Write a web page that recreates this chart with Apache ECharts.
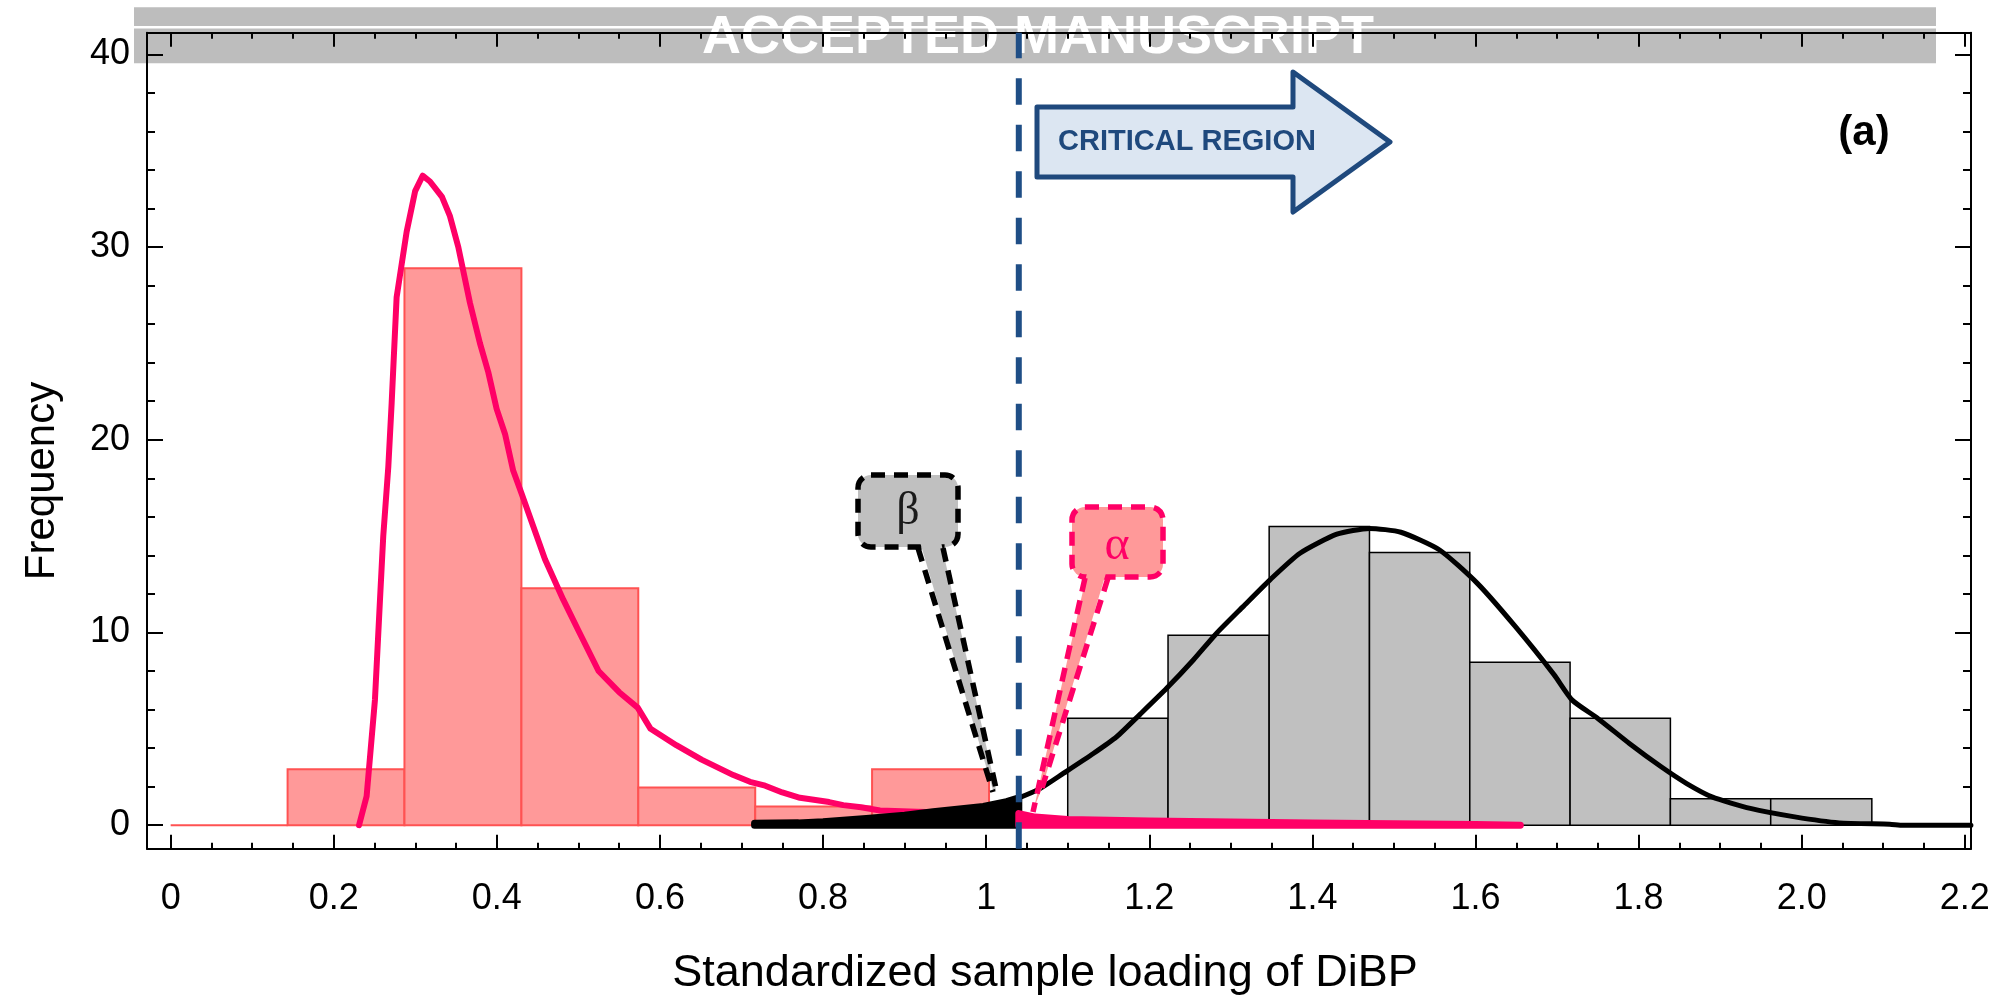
<!DOCTYPE html>
<html>
<head>
<meta charset="utf-8">
<script src="https://cdn.jsdelivr.net/npm/echarts@6/dist/echarts.min.js"></script>
<style>
  html, body { margin: 0; padding: 0; background: #ffffff; }
  #chart { width: 1997px; height: 997px; }
</style>
</head>
<body>
<div id="chart"></div>
<script>
// ---------------- data ----------------
// pink sample (below the critical value): histogram bins
const pinkBinEdges   = [0, 0.1434, 0.2867, 0.4301, 0.5734, 0.7168, 0.8601, 1.0035];
const pinkBinHeights = [0, 2.9, 28.9, 12.3, 1.95, 0.97, 2.9];

// grey sample (above the critical value): histogram bins
const greyBinEdges   = [1.100, 1.223, 1.347, 1.470, 1.593, 1.716, 1.839, 1.962, 2.086];
const greyBinHeights = [5.55, 9.85, 15.5, 14.15, 8.45, 5.55, 1.37, 1.37];

// fitted density of the pink sample
const pinkCurve = [
  [0.231, 0], [0.2403, 1.5], [0.2505, 6.5], [0.2567, 11.7], [0.2607, 15.0],
  [0.2669, 18.6], [0.2710, 21.9], [0.2771, 27.4], [0.2894, 30.8], [0.2998, 32.9],
  [0.3090, 33.7], [0.3180, 33.4], [0.3327, 32.6], [0.3425, 31.6], [0.3527, 30.0],
  [0.3670, 27.1], [0.3793, 25.0], [0.3895, 23.5], [0.3997, 21.6], [0.4100, 20.3],
  [0.4200, 18.4], [0.4304, 17.2], [0.4447, 15.5], [0.4590, 13.8], [0.4814, 11.7],
  [0.5000, 10.1], [0.5247, 8.0], [0.5500, 6.9], [0.5727, 6.1], [0.5885, 5.0],
  [0.6200, 4.15], [0.6510, 3.4], [0.6900, 2.6], [0.7104, 2.25], [0.7290, 2.05],
  [0.7500, 1.7], [0.7717, 1.42], [0.8075, 1.2], [0.8248, 1.04], [0.8466, 0.93],
  [0.8698, 0.76], [0.9150, 0.70], [0.9500, 0.66], [0.9800, 0.62]
];

// fitted density of the grey sample
const greyCurve = [
  [0.716, 0.10], [0.770, 0.12], [0.800, 0.18], [0.853, 0.35], [0.900, 0.52],
  [0.935, 0.70], [0.9965, 0.97], [1.025, 1.22], [1.040, 1.42], [1.066, 1.90],
  [1.095, 2.70], [1.1314, 3.72], [1.160, 4.59], [1.1886, 5.75], [1.2213, 7.10],
  [1.254, 8.57], [1.2826, 9.96], [1.315, 11.34], [1.348, 12.73], [1.3848, 14.11],
  [1.430, 15.10], [1.470, 15.40], [1.5086, 15.20], [1.556, 14.28], [1.602, 12.56],
  [1.649, 10.30], [1.6965, 7.80], [1.7186, 6.49], [1.750, 5.54], [1.7887, 4.24],
  [1.8277, 3.03], [1.859, 2.16], [1.890, 1.47], [1.937, 0.87], [1.9915, 0.43],
  [2.046, 0.12], [2.108, 0.05], [2.124, 0], [2.2075, 0]
];

// upper tail of the pink density beyond the critical value (alpha)
const alphaTail = [
  [1.04, 0.60], [1.06, 0.42], [1.10, 0.30], [1.20, 0.22], [1.30, 0.17],
  [1.40, 0.12], [1.50, 0.07], [1.60, 0.03], [1.655, 0]
];

const criticalValue = 1.04;
const betaRange = [0.716, 1.04];

// axis ticks
const xTickValues = [0, 0.2, 0.4, 0.6, 0.8, 1, 1.2, 1.4, 1.6, 1.8, 2.0, 2.2];
const xTickLabels = ['0', '0.2', '0.4', '0.6', '0.8', '1', '1.2', '1.4', '1.6', '1.8', '2.0', '2.2'];
const yTickValues = [0, 10, 20, 30, 40];
const yTickLabels = ['0', '10', '20', '30', '40'];

// ---------------- layout ----------------
const X_RANGE = [-0.029, 2.2076];
const Y_RANGE = [-1.22, 41.12];
const FONT = '"Liberation Sans", Arial, Helvetica, sans-serif';
const SERIF = '"Liberation Serif", "Times New Roman", serif';

const xMinorTicks = [];
for (let i = 0; i <= 44; i++) xMinorTicks.push(+(i * 0.05).toFixed(2));
const yMinorTicks = [];
for (let i = 0; i <= 20; i++) yMinorTicks.push(i * 2);

function labelFor(values, labels) {
  return function (v) {
    const i = values.findIndex(t => Math.abs(t - v) < 1e-6);
    return i >= 0 ? labels[i] : '';
  };
}

function tickAxis(kind, position, ticks, len, withLine, labelOpt) {
  return {
    type: 'value',
    position: position,
    min: kind === 'x' ? X_RANGE[0] : Y_RANGE[0],
    max: kind === 'x' ? X_RANGE[1] : Y_RANGE[1],
    axisLine: { show: withLine, onZero: false, lineStyle: { color: '#000', width: 2 } },
    axisTick: { show: true, inside: true, length: len, customValues: ticks,
                lineStyle: { color: '#000', width: 2 } },
    axisLabel: labelOpt || { show: false },
    splitLine: { show: false },
    minorTick: { show: false },
    z: 5
  };
}

const chart = echarts.init(document.getElementById('chart'), null, { renderer: 'canvas' });

function histogramData(edges, heights) {
  return heights.map((h, i) => [edges[i], edges[i + 1], h]);
}

function barRenderer(fill, stroke, lw) {
  return function (params, api) {
    const x0 = api.value(0), x1 = api.value(1), h = api.value(2);
    const a = api.coord([x0, h]);
    const b = api.coord([x1, 0]);
    if (h === 0) {
      return { type: 'line', shape: { x1: a[0], y1: b[1], x2: b[0], y2: b[1] },
               style: { stroke: stroke, lineWidth: lw } };
    }
    return {
      type: 'rect',
      shape: { x: a[0], y: a[1], width: b[0] - a[0], height: b[1] - a[1] },
      style: { fill: fill, stroke: stroke, lineWidth: lw }
    };
  };
}

function areaRenderer(points, color, lw) {
  return function (params, api) {
    const top = points.map(p => api.coord(p));
    const last = points[points.length - 1], first = points[0];
    const pts = top.concat([api.coord([last[0], 0]), api.coord([first[0], 0])]);
    return {
      type: 'polygon',
      shape: { points: pts },
      style: { fill: color, stroke: color, lineWidth: lw, lineJoin: 'round' }
    };
  };
}

const betaPoints = greyCurve.filter(p => p[0] >= betaRange[0] - 1e-9 && p[0] <= betaRange[1] + 1e-9);

// callouts, critical line and the arrow
function annotationRenderer(params, api) {
  const bottom = api.coord([criticalValue, Y_RANGE[0]]);
  const topP = api.coord([criticalValue, Y_RANGE[1]]);
  const dash = [14, 9];
  const bw = 5.5;
  const children = [];

  // beta callout
  children.push({ type: 'rect', shape: { x: 858, y: 475, width: 100, height: 72, r: 13 },
                  style: { fill: '#C0C0C0', stroke: '#000', lineWidth: bw, lineDash: dash } });
  children.push({ type: 'polygon', shape: { points: [[920, 542], [941, 542], [996, 790], [993, 790]] },
                  style: { fill: '#C0C0C0' } });
  children.push({ type: 'line', shape: { x1: 918, y1: 548, x2: 993, y2: 792 },
                  style: { stroke: '#000', lineWidth: bw, lineDash: dash } });
  children.push({ type: 'line', shape: { x1: 943, y1: 548, x2: 997, y2: 793 },
                  style: { stroke: '#000', lineWidth: bw, lineDash: dash } });
  children.push({ type: 'text', style: { text: 'β', x: 908, y: 512, font: '46px ' + SERIF,
                  fill: '#1a1a1a', align: 'center', verticalAlign: 'middle' } });

  // alpha callout
  children.push({ type: 'rect', shape: { x: 1072, y: 507, width: 91, height: 70, r: 13 },
                  style: { fill: '#FF9999', stroke: '#FF0066', lineWidth: bw, lineDash: dash } });
  children.push({ type: 'polygon', shape: { points: [[1087, 573], [1106, 573], [1042, 788], [1034, 808]] },
                  style: { fill: '#FF9999' } });
  children.push({ type: 'line', shape: { x1: 1085, y1: 578, x2: 1033, y2: 812 },
                  style: { stroke: '#FF0066', lineWidth: bw, lineDash: dash } });
  children.push({ type: 'line', shape: { x1: 1108, y1: 578, x2: 1042, y2: 788 },
                  style: { stroke: '#FF0066', lineWidth: bw, lineDash: dash } });
  children.push({ type: 'text', style: { text: 'α', x: 1117, y: 546, font: '48px ' + SERIF,
                  fill: '#FF0066', align: 'center', verticalAlign: 'middle' } });

  // critical value
  children.push({ type: 'line', shape: { x1: bottom[0], y1: bottom[1], x2: topP[0], y2: topP[1] },
                  style: { stroke: '#1F4E86', lineWidth: 6, lineDash: [26.5, 20] } });

  // critical region arrow
  children.push({ type: 'polygon',
                  shape: { points: [[1037, 107], [1293, 107], [1293, 72], [1390, 142],
                                    [1293, 212], [1293, 177], [1037, 177]] },
                  style: { fill: '#DCE6F2', stroke: '#1F497D', lineWidth: 5, lineJoin: 'round' } });
  children.push({ type: 'text', style: { text: 'CRITICAL REGION', x: 1187, y: 142,
                  font: 'bold 29px ' + FONT, fill: '#1F497D', align: 'center', verticalAlign: 'middle' } });

  return { type: 'group', children: children };
}

const option = {
  backgroundColor: '#ffffff',
  animation: false,
  grid: { left: 147, right: 26, top: 32.7, bottom: 148.3, containLabel: false },
  xAxis: [
    tickAxis('x', 'bottom', xTickValues, 14, true, {
      show: true, customValues: xTickValues, formatter: labelFor(xTickValues, xTickLabels),
      margin: 32, fontSize: 36, fontFamily: FONT, color: '#000'
    }),
    tickAxis('x', 'bottom', xMinorTicks, 6, false),
    tickAxis('x', 'top', xTickValues, 14, true),
    tickAxis('x', 'top', xMinorTicks, 6, false)
  ],
  yAxis: [
    tickAxis('y', 'left', yTickValues, 16, true, {
      show: true, customValues: yTickValues, formatter: labelFor(yTickValues, yTickLabels),
      margin: 17, fontSize: 36, fontFamily: FONT, color: '#000'
    }),
    tickAxis('y', 'left', yMinorTicks, 8, false),
    tickAxis('y', 'right', yTickValues, 16, true),
    tickAxis('y', 'right', yMinorTicks, 8, false)
  ],
  graphic: [
    { type: 'rect', z: -10, shape: { x: 134, y: 7.3, width: 1802, height: 56 }, style: { fill: '#BDBDBD' } },
    { type: 'rect', z: -9, shape: { x: 134, y: 26, width: 1802, height: 2.5 }, style: { fill: '#FFFFFF' } },
    { type: 'text', z: -8, x: 1038, y: 38,
      style: { text: 'ACCEPTED MANUSCRIPT', font: 'bold 54px ' + FONT, fill: '#FFFFFF',
               align: 'center', verticalAlign: 'middle' } },
    { type: 'text', x: 1864, y: 133,
      style: { text: '(a)', font: 'bold 42px ' + FONT, fill: '#000', align: 'center', verticalAlign: 'middle' } },
    { type: 'text', x: 1045, y: 974,
      style: { text: 'Standardized sample loading of DiBP', font: '45px ' + FONT, fill: '#000',
               align: 'center', verticalAlign: 'middle' } },
    { type: 'text', x: 42.5, y: 481, rotation: Math.PI / 2,
      style: { text: 'Frequency', font: '42px ' + FONT, fill: '#000',
               align: 'center', verticalAlign: 'middle' } }
  ],
  series: [
    {
      name: 'pink histogram', type: 'custom', xAxisIndex: 0, yAxisIndex: 0, z: 2,
      renderItem: barRenderer('#FF9999', '#FF5252', 2),
      encode: { x: [0, 1], y: 2 },
      data: histogramData(pinkBinEdges, pinkBinHeights)
    },
    {
      name: 'grey histogram', type: 'custom', xAxisIndex: 0, yAxisIndex: 0, z: 2,
      renderItem: barRenderer('#C0C0C0', '#000000', 1.5),
      encode: { x: [0, 1], y: 2 },
      data: histogramData(greyBinEdges, greyBinHeights)
    },
    {
      name: 'pink density', type: 'line', xAxisIndex: 0, yAxisIndex: 0, z: 3,
      showSymbol: false, symbol: 'none',
      lineStyle: { color: '#FF0066', width: 6, cap: 'round', join: 'round' },
      data: pinkCurve
    },
    {
      name: 'grey density', type: 'line', xAxisIndex: 0, yAxisIndex: 0, z: 3,
      showSymbol: false, symbol: 'none', smooth: 0.2,
      lineStyle: { color: '#000000', width: 5, cap: 'round', join: 'round' },
      data: greyCurve
    },
    {
      name: 'beta', type: 'custom', xAxisIndex: 0, yAxisIndex: 0, z: 4,
      renderItem: areaRenderer(betaPoints, '#000000', 7),
      data: [[betaRange[0], 0]]
    },
    {
      name: 'alpha', type: 'custom', xAxisIndex: 0, yAxisIndex: 0, z: 4,
      renderItem: areaRenderer(alphaTail, '#FF0066', 7),
      data: [[alphaTail[0][0], 0]]
    },
    {
      name: 'annotations', type: 'custom', xAxisIndex: 0, yAxisIndex: 0, z: 6, clip: false,
      renderItem: annotationRenderer,
      data: [[criticalValue, 0]]
    }
  ]
};

chart.setOption(option);
</script>
</body>
</html>
